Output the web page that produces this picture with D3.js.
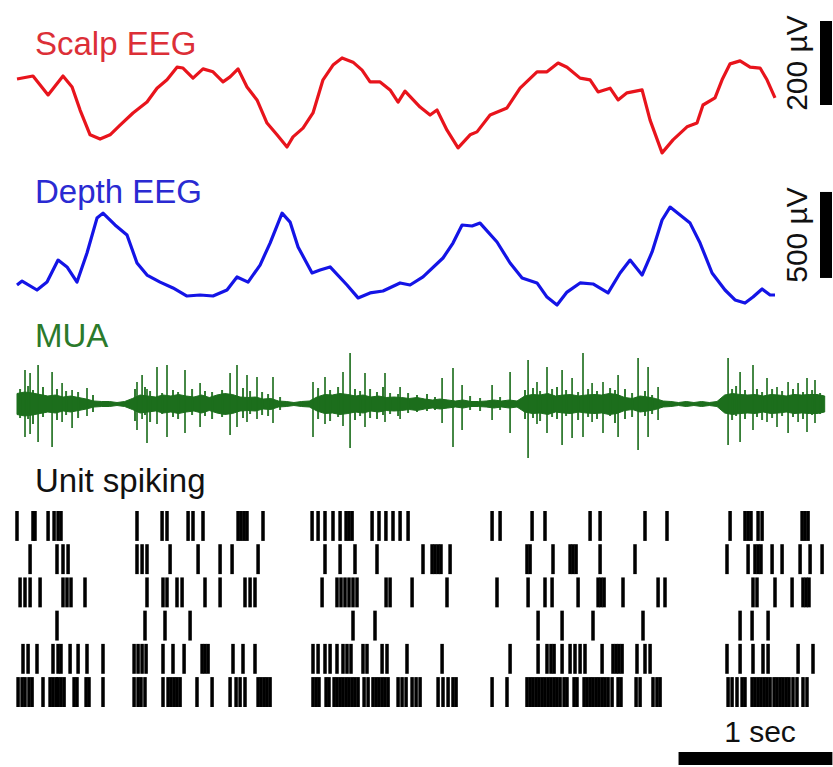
<!DOCTYPE html>
<html>
<head>
<meta charset="utf-8">
<script src="https://cdn.jsdelivr.net/npm/d3@7"></script>
<style>
  html, body { margin: 0; padding: 0; background: #fff; }
  svg { display: block; font-family: "Liberation Sans", Arial, sans-serif; }
</style>
</head>
<body>
<svg id="chart" width="833" height="767"></svg>
<script>
// ---------------- DATA ----------------
// Scalp EEG: [time ms, µV]
const scalpTime = [0,104,202,299,358,410,475,540,605,670,754,845,910,975,1040,1079,1144,1209,1274,1339,1385,1437,1495,1560,1625,1690,1755,1794,1859,1924,1989,2054,2113,2184,2243,2295,2360,2425,2477,2522,2620,2685,2730,2795,2867,2945,2990,3075,3185,3270,3380,3445,3517,3575,3660,3725,3777,3855,3907,3965,4063,4115,4193,4264,4355,4420,4459,4537,4583,4635,4700,4765,4830,4875,4927];
const scalpUV   = [62,69,24,69,43,-12,-71,-81,-71,-48,-19,7,40,60,90,88,64,86,79,55,67,86,43,12,-43,-71,-100,-76,-55,-19,60,95,112,102,83,55,55,36,7,33,-5,-24,-12,-60,-102,-71,-64,-24,-7,40,79,79,100,90,64,60,31,40,12,29,36,-36,-114,-83,-52,-43,0,17,60,98,105,90,88,60,17];

// Depth EEG: [time ms, µV]
const depthTime = [0,33,130,195,267,325,390,455,520,559,637,715,780,845,930,1014,1105,1190,1274,1365,1430,1502,1580,1645,1723,1775,1827,1918,1970,2035,2145,2217,2295,2379,2490,2555,2639,2769,2834,2893,2958,3010,3120,3205,3283,3380,3445,3510,3575,3660,3744,3842,3920,3985,4063,4128,4193,4245,4310,4375,4440,4518,4602,4667,4732,4784,4843,4895,4927];
const depthUV   = [29,52,0,46,174,134,46,215,418,447,378,320,157,87,46,12,-35,-29,-35,0,76,46,145,273,447,395,250,99,116,134,29,-46,-17,-6,41,29,76,186,273,378,372,389,279,157,70,41,-41,-87,-12,41,35,-17,99,174,87,221,407,482,436,389,273,99,0,-58,-76,-41,6,-29,-29];

// MUA background envelope (half-width, µV), one value per 50 ms bin
const muaBinMs = 50;
const muaEnvelope = [21,24,22,19,16,18,14,16,13,10,6,5,5,3,5,11,18,16,14,18,16,19,16,14,18,13,18,21,19,14,13,14,10,11,6,5,3,5,6,14,19,18,21,19,16,18,14,16,13,14,13,11,13,10,8,10,8,6,8,5,5,6,8,6,8,6,16,19,18,21,16,18,19,16,18,19,18,21,19,13,11,16,14,11,6,5,3,5,3,5,3,5,18,21,19,18,19,16,19,18,16,19,18,19,19,16];
// MUA large spikes: time ms, peak up µV, peak down µV
const muaSpikeTime = [52,85,137,228,293,358,455,780,813,845,910,975,1092,1190,1385,1430,1495,1560,1664,1924,2002,2119,2165,2262,2392,2490,2763,2834,2893,3088,3205,3322,3380,3445,3543,3608,3679,3738,3809,3907,4037,4102,4167,4622,4700,4784,4875,4940,5012,5077,5135,5187];
const muaSpikeUp   = [68,62,78,64,42,28,32,44,58,30,74,78,68,42,62,78,58,54,54,44,54,64,102,62,62,34,52,72,38,38,64,88,44,74,68,52,102,42,44,58,92,74,34,92,64,78,52,34,44,42,52,48];
const muaSpikeDown = [-66,-60,-76,-86,-36,-48,-24,-52,-30,-78,-40,-66,-58,-46,-62,-46,-36,-30,-38,-66,-40,-44,-88,-46,-36,-30,-38,-86,-52,-32,-58,-108,-40,-58,-82,-68,-66,-36,-58,-66,-92,-66,-32,-82,-76,-52,-36,-46,-58,-36,-56,-38];
// MUA medium spikes
const muaMidTime = [20,72,104,169,260,319,397,494,767,832,865,943,1014,1047,1138,1222,1268,1333,1469,1515,1593,1632,1710,1957,2035,2087,2197,2230,2295,2340,2379,2425,2477,2542,2600,2665,2717,2945,3010,3140,3302,3354,3400,3478,3510,3569,3647,3712,3770,3855,3887,3952,3998,4082,4128,4648,4674,4732,4810,4843,4908,4973,5044,5109,5168,5220];
const muaMidUp   = [30,36,28,34,30,26,24,18,30,34,26,22,28,24,30,26,24,28,32,26,24,20,14,32,28,34,30,26,30,24,34,22,20,22,18,20,14,16,12,14,28,32,26,30,34,28,24,30,26,32,28,30,22,26,18,30,36,28,30,24,30,26,30,24,28,22];
const muaMidDown = [-28,-30,-40,-26,-32,-22,-28,-16,-34,-22,-36,-20,-26,-30,-22,-24,-30,-26,-28,-20,-22,-24,-12,-30,-34,-26,-32,-24,-28,-30,-22,-20,-24,-18,-16,-14,-12,-12,-14,-12,-30,-28,-34,-26,-30,-24,-32,-26,-30,-24,-38,-30,-26,-24,-20,-32,-24,-30,-26,-32,-28,-24,-26,-30,-22,-20];

// Unit spiking raster: spike times (ms) per unit
const unit1 = [0,104,117,202,241,267,286,780,943,975,1112,1144,1209,1437,1456,1476,1495,1599,1918,1957,2002,2054,2100,2139,2158,2178,2308,2353,2398,2444,2490,2542,3088,3140,3348,3432,3725,3790,4082,4225,4635,4732,4752,4771,4817,4843,5103,5122,5142];
const unit2 = [85,260,299,332,780,813,845,995,1177,1320,1398,1567,2002,2100,2197,2340,2639,2698,2717,2737,2756,2815,3315,3335,3484,3595,3614,3634,3790,4017,4615,4752,4797,4817,4836,4908,4973,5090,5155,5233];
const unit3 = [20,52,85,150,299,325,351,442,845,949,975,1040,1073,1222,1320,1482,1515,1547,1983,2080,2106,2132,2158,2184,2210,2399,2425,2568,2795,3120,3322,3432,3478,3647,3777,3796,3816,3939,4167,4212,4784,4810,4927,5038,5109,5129,5148];
const unit4 = [260,832,962,1125,2184,2327,3387,3543,3744,4069,4700,4778,4882];
const unit5 = [39,72,130,234,267,286,345,397,455,559,761,787,813,839,949,1014,1086,1203,1222,1242,1404,1469,1547,1924,1957,2002,2035,2080,2119,2145,2171,2249,2275,2373,2405,2535,2763,3205,3387,3445,3471,3491,3543,3595,3627,3660,3692,3803,3874,3894,3913,3933,4030,4082,4115,4615,4700,4784,4849,4882,5077,5174];
const unit6 = [7,33,52,78,98,169,215,234,254,267,286,306,371,390,449,468,559,761,787,806,832,949,982,1001,1021,1040,1060,1170,1268,1385,1424,1450,1482,1567,1586,1606,1625,1645,1924,1944,1963,2009,2028,2061,2080,2100,2119,2139,2158,2178,2197,2217,2256,2282,2314,2334,2353,2373,2392,2412,2477,2503,2529,2568,2594,2620,2737,2769,2802,2834,2854,3088,3185,3315,3335,3354,3374,3393,3413,3432,3452,3471,3491,3510,3530,3556,3575,3621,3640,3686,3705,3725,3744,3764,3783,3803,3822,3842,3868,3907,3926,4024,4050,4134,4160,4180,4622,4648,4680,4713,4732,4778,4797,4817,4836,4856,4875,4895,4921,4940,4960,4979,4999,5018,5044,5070,5109,5135];
const units = [unit1, unit2, unit3, unit4, unit5, unit6];

// Labels and scale bars
const traceLabels = ["Scalp EEG", "Depth EEG", "MUA", "Unit spiking"];
const scalpBarUV = [0, 200];
const depthBarUV = [70, 570];
const scalpBarLabel = "200 µV";
const depthBarLabel = "500 µV";
const timeBarMs = [4300, 5300];
const timeBarLabel = "1 sec";

// ---------------- DRAW ----------------
const svg = d3.select("#chart");
const x = d3.scaleLinear().domain([0, 5250]).range([17, 17 + 5250 / 6.5]);

const yScalp = d3.scaleLinear().domain([-200, 200]).range([105 + 84, 105 - 84]);
const yDepth = d3.scaleLinear().domain([-500, 500]).range([290 + 86, 290 - 86]);
const yMua = d3.scaleLinear().domain([-120, 120]).range([404 + 60, 404 - 60]);
const yUnit = d3.scaleBand().domain(d3.range(units.length)).range([511, 707]).paddingInner(0.1);

const RED = "#e8141c", BLUE = "#1414e6", GREEN = "#1c6e1c";

// Scalp EEG
const scalpData = scalpTime.map((t, i) => [t, scalpUV[i]]);
svg.append("path").datum(scalpData)
  .attr("fill", "none").attr("stroke", RED).attr("stroke-width", 3.2)
  .attr("stroke-linejoin", "round")
  .attr("d", d3.line().x(d => x(d[0])).y(d => yScalp(d[1])));

// Depth EEG
const depthData = depthTime.map((t, i) => [t, depthUV[i]]);
svg.append("path").datum(depthData)
  .attr("fill", "none").attr("stroke", BLUE).attr("stroke-width", 3.2)
  .attr("stroke-linejoin", "round")
  .attr("d", d3.line().x(d => x(d[0])).y(d => yDepth(d[1])));

// MUA core
const muaData = muaEnvelope.map((e, i) => [i * muaBinMs, e]);
svg.append("path").datum(muaData)
  .attr("fill", GREEN).attr("stroke", GREEN).attr("stroke-width", 1)
  .attr("d", d3.area().x(d => x(d[0])).y0(d => yMua(-d[1])).y1(d => yMua(d[1])));
// MUA medium spikes
svg.append("g").selectAll("line").data(muaMidTime.map((t, i) => [t, muaMidUp[i], muaMidDown[i]]))
  .join("line")
  .attr("x1", d => x(d[0])).attr("x2", d => x(d[0]))
  .attr("y1", d => yMua(d[1])).attr("y2", d => yMua(d[2]))
  .attr("stroke", GREEN).attr("stroke-width", 2).attr("opacity", 0.9);
// MUA large spikes
svg.append("g").selectAll("line").data(muaSpikeTime.map((t, i) => [t, muaSpikeUp[i], muaSpikeDown[i]]))
  .join("line")
  .attr("x1", d => x(d[0])).attr("x2", d => x(d[0]))
  .attr("y1", d => yMua(d[1])).attr("y2", d => yMua(d[2]))
  .attr("stroke", GREEN).attr("stroke-width", 1.8).attr("opacity", 0.9);

// Raster
units.forEach((times, r) => {
  svg.append("g").selectAll("rect").data(times).join("rect")
    .attr("x", d => x(d) - 1.75).attr("width", 3.5)
    .attr("y", yUnit(r)).attr("height", yUnit.bandwidth())
    .attr("fill", "#000");
});

// Labels
const labelColors = ["#dc2f37", "#2a2ad2", "#2b7a2b", "#111"];
const labelY = [55, 203, 347, 492];
traceLabels.forEach((t, i) => {
  svg.append("text").attr("x", 35).attr("y", labelY[i])
    .attr("font-size", 33).attr("fill", labelColors[i]).text(t);
});

// Vertical scale bars
svg.append("rect").attr("x", 820).attr("width", 12)
  .attr("y", yScalp(scalpBarUV[1])).attr("height", yScalp(scalpBarUV[0]) - yScalp(scalpBarUV[1]))
  .attr("fill", "#000");
svg.append("rect").attr("x", 820).attr("width", 12)
  .attr("y", yDepth(depthBarUV[1])).attr("height", yDepth(depthBarUV[0]) - yDepth(depthBarUV[1]))
  .attr("fill", "#000");
svg.append("text")
  .attr("transform", `translate(807,${(yScalp(scalpBarUV[0]) + yScalp(scalpBarUV[1])) / 2}) rotate(-90)`)
  .attr("text-anchor", "middle").attr("font-size", 30).attr("fill", "#111").text(scalpBarLabel);
svg.append("text")
  .attr("transform", `translate(807,${(yDepth(depthBarUV[0]) + yDepth(depthBarUV[1])) / 2}) rotate(-90)`)
  .attr("text-anchor", "middle").attr("font-size", 30).attr("fill", "#111").text(depthBarLabel);

// Time scale bar
svg.append("rect").attr("x", x(timeBarMs[0])).attr("width", x(timeBarMs[1]) - x(timeBarMs[0]))
  .attr("y", 752).attr("height", 13).attr("fill", "#000");
svg.append("text").attr("x", 760).attr("y", 742).attr("text-anchor", "middle")
  .attr("font-size", 30).attr("fill", "#111").text(timeBarLabel);
</script>
</body>
</html>
